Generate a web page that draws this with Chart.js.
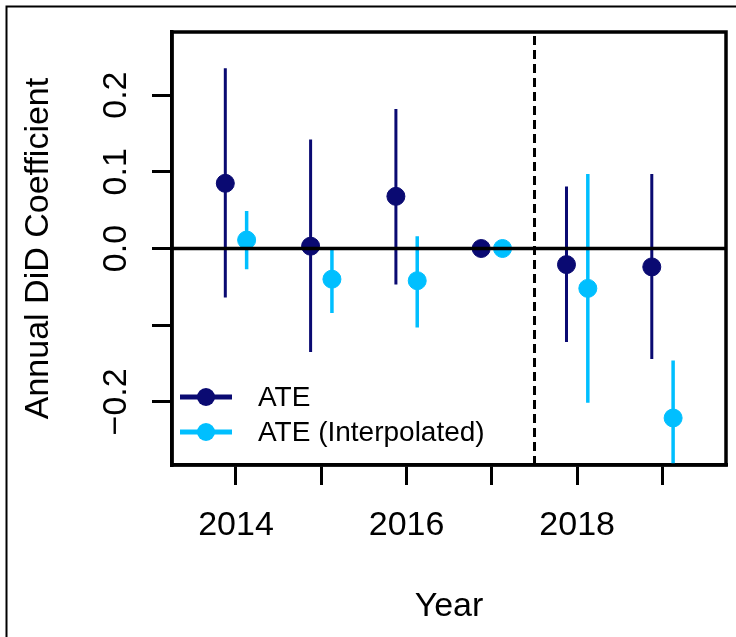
<!DOCTYPE html>
<html lang="en">
<head>
<meta charset="UTF-8" />
<title>Annual DiD Coefficient</title>
<style>
  html,body{margin:0;padding:0;background:#fff;}
  #wrap{width:736px;height:637px;position:relative;}
  canvas{display:block;}
</style>
<script src="https://cdn.jsdelivr.net/npm/chart.js@4.4.0/dist/chart.umd.min.js"></script>
</head>
<body>
<div id="wrap"><canvas id="didChart" width="736" height="637"></canvas></div>

<script>
// ===== data =====
const years = [2014, 2015, 2016, 2017, 2018, 2019];
const ateEst = [0.085, 0.003, 0.068, 0.000, -0.021, -0.024];
const ateLo  = [-0.064, -0.135, -0.047, 0.000, -0.122, -0.144];
const ateHi  = [0.235, 0.142, 0.182, 0.000, 0.081, 0.097];
const intEst = [0.011, -0.040, -0.042, 0.000, -0.052, -0.221];
const intLo  = [-0.027, -0.084, -0.103, 0.000, -0.201, -0.310];
const intHi  = [0.049, 0.002, 0.016, 0.000, 0.097, -0.146];

const xTickValues = [2014, 2015, 2016, 2017, 2018, 2019];
const xTickLabels = ['2014', '', '2016', '', '2018', ''];
const yTickValues = [-0.2, -0.1, 0.0, 0.1, 0.2];
const yTickLabels = ['\u22120.2', '', '0.0', '0.1', '0.2'];

const dodge = 0.125;          // side-by-side offset of the two series
const xRange = [2013.25, 2019.745];
const yRange = [-0.2823, 0.2823];
const treatYear = 2017.5;     // dashed vertical line

// ===== colours =====
const navy = '#0a0a72';
const sky = '#00bfff';
const FONT = '"Liberation Sans", Arial, sans-serif';

// error bars as one line dataset with gaps
const errSeg = (lo, hi, off) => {
  const out = [];
  years.forEach((y, i) => {
    out.push({x: y + off, y: lo[i]}, {x: y + off, y: hi[i]}, {x: y + off, y: null});
  });
  return out;
};
const pts = (est, off) => years.map((y, i) => ({x: y + off, y: est[i]}));

// ===== box, rotated y labels, legend, outer frame =====
const decor = {
  id: 'decor',
  afterDraw(chart) {
    const {ctx, chartArea: a, scales: {y}} = chart;
    ctx.save();
    // plot box
    ctx.strokeStyle = '#000';
    ctx.lineWidth = 3.5;
    ctx.strokeRect(a.left, a.top, a.right - a.left, a.bottom - a.top);

    // y tick labels, rotated like R
    ctx.fillStyle = '#000';
    ctx.font = '34px ' + FONT;
    ctx.textAlign = 'center';
    ctx.textBaseline = 'alphabetic';
    yTickValues.forEach((v, i) => {
      if (!yTickLabels[i]) return;
      ctx.save();
      ctx.translate(a.left - 46, y.getPixelForValue(v));
      ctx.rotate(-Math.PI / 2);
      ctx.fillText(yTickLabels[i], 0, 0);
      ctx.restore();
    });

    // legend (bottom-left inside the box)
    const items = [['ATE', navy], ['ATE (Interpolated)', sky]];
    ctx.font = '28px ' + FONT;
    ctx.textAlign = 'left';
    ctx.textBaseline = 'middle';
    items.forEach(([txt, col], i) => {
      const ly = a.bottom - 68 + i * 35;
      ctx.strokeStyle = col;
      ctx.lineWidth = 5;
      ctx.beginPath();
      ctx.moveTo(a.left + 8, ly);
      ctx.lineTo(a.left + 60, ly);
      ctx.stroke();
      ctx.fillStyle = col;
      ctx.beginPath();
      ctx.arc(a.left + 34, ly, 9, 0, Math.PI * 2);
      ctx.fill();
      ctx.fillStyle = '#000';
      ctx.fillText(txt, a.left + 86, ly + 1);
    });

    // outer frame
    ctx.strokeStyle = '#000';
    ctx.lineWidth = 2;
    ctx.beginPath();
    ctx.moveTo(6.5, 637);
    ctx.lineTo(6.5, 6.5);
    ctx.lineTo(736, 6.5);
    ctx.stroke();
    ctx.restore();
  }
};

new Chart(document.getElementById('didChart'), {
  type: 'scatter',
  data: {
    datasets: [
      {
        label: 'zero', type: 'line', order: 0,
        data: [{x: xRange[0], y: 0}, {x: xRange[1], y: 0}],
        borderColor: '#000', borderWidth: 3.5, pointRadius: 0
      },
      {
        label: 'treat', type: 'line', order: 5,
        data: [{x: treatYear, y: yRange[0]}, {x: treatYear, y: yRange[1]}],
        borderColor: '#000', borderWidth: 3, borderDash: [9, 5], pointRadius: 0
      },
      {
        label: 'ATE', order: 1,
        data: pts(ateEst, -dodge),
        backgroundColor: navy, borderColor: navy, pointRadius: 9, pointHoverRadius: 9
      },
      {
        label: 'ATE (Interpolated)', order: 2,
        data: pts(intEst, dodge),
        backgroundColor: sky, borderColor: sky, pointRadius: 9, pointHoverRadius: 9
      },
      {
        label: 'ATE CI', type: 'line', order: 3,
        data: errSeg(ateLo, ateHi, -dodge), spanGaps: false,
        borderColor: navy, borderWidth: 3, pointRadius: 0
      },
      {
        label: 'Interp CI', type: 'line', order: 4,
        data: errSeg(intLo, intHi, dodge), spanGaps: false,
        borderColor: sky, borderWidth: 3.5, pointRadius: 0
      }
    ]
  },
  options: {
    responsive: false,
    animation: false,
    events: [],
    layout: {padding: {left: 0, top: 32, right: 9.5, bottom: 0}},
    plugins: {legend: {display: false}, tooltip: {enabled: false}},
    scales: {
      x: {
        type: 'linear', min: xRange[0], max: xRange[1],
        afterBuildTicks: s => { s.ticks = xTickValues.map(v => ({value: v})); },
        afterFit: s => { s.height = 172; },
        ticks: {
          autoSkip: false, maxRotation: 0, padding: 20, color: '#000',
          font: {family: FONT, size: 34},
          callback: (v) => xTickLabels[xTickValues.indexOf(v)] ?? ''
        },
        grid: {drawOnChartArea: false, drawTicks: true, tickLength: 20, color: '#000', lineWidth: 3},
        border: {display: true, color: '#000', width: 3.5},
        title: {display: true, text: 'Year', color: '#000', font: {family: FONT, size: 34}, padding: {top: 0, bottom: 10}}
      },
      y: {
        type: 'linear', min: yRange[0], max: yRange[1],
        afterBuildTicks: s => { s.ticks = yTickValues.map(v => ({value: v})); },
        afterFit: s => { s.width = 172; },
        ticks: {display: false},
        grid: {drawOnChartArea: false, drawTicks: true, tickLength: 20, color: '#000', lineWidth: 3},
        border: {display: true, color: '#000', width: 3.5},
        title: {display: true, text: 'Annual DiD Coefficient', color: '#000', font: {family: FONT, size: 34}, padding: {top: 18, bottom: 0}}
      }
    }
  },
  plugins: [decor]
});
</script>
</body>
</html>
